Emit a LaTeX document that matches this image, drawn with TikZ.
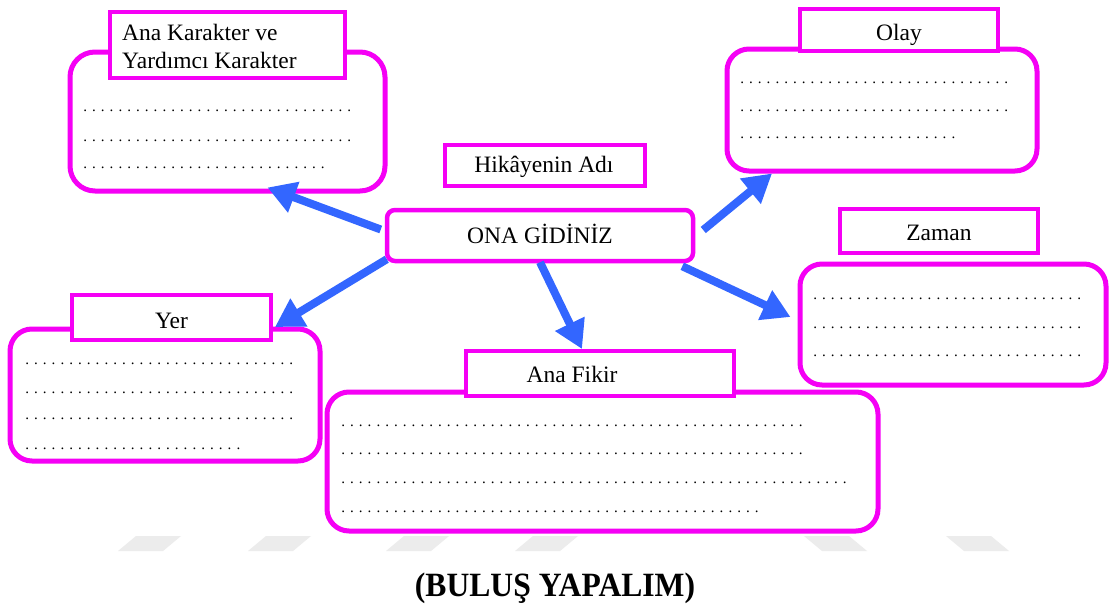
\documentclass[tikz,border=0pt]{standalone}
\usepackage{fontspec}
\setmainfont{Liberation Serif}
\usetikzlibrary{arrows.meta}
\definecolor{frame}{RGB}{245,0,245}
\definecolor{arrowblue}{RGB}{51,102,255}
\definecolor{wmgray}{RGB}{236,236,236}
% a row of n periods, 8.8pt apart, for the writing lines
\newcount\dotcount
\newcommand\dotrow[1]{{\fontsize{15}{15}\selectfont\dotcount=#1\relax
  \loop\hbox to 8.8pt{\hss.\hss}\advance\dotcount by -1\relax\ifnum\dotcount>0 \repeat}}
\begin{document}
\begin{tikzpicture}[x=1pt,y=-1pt]
\tikzset{
  panel/.style={draw=frame, line width=5pt, fill=white, rounded corners=22pt, inner sep=0pt},
  titlebox/.style={draw=frame, line width=4pt, fill=white, inner sep=0pt},
  wordtext/.style={font=\fontsize{23.5}{28}\selectfont, inner sep=0pt, anchor=base},
  dotline/.style={inner sep=0pt, anchor=base west, text=black},
  flow/.style={draw=arrowblue, line width=8pt, -{Triangle[length=28pt,width=31pt]}},
  wmshape/.style={fill=wmgray}
}
\fill[white] (0,0) rectangle (1112,605);
\useasboundingbox (0,0) rectangle (1112,605);

% faint bars along the lower edge
\fill[wmshape] (118,551) -- (163,551) -- (181,536) -- (136,536) -- cycle;
\fill[wmshape] (248,551) -- (293,551) -- (311,536) -- (266,536) -- cycle;
\fill[wmshape] (386,551) -- (431,551) -- (449,536) -- (404,536) -- cycle;
\fill[wmshape] (515,551) -- (560,551) -- (578,536) -- (533,536) -- cycle;
\fill[wmshape] (822,551) -- (867,551) -- (849,536) -- (804,536) -- cycle;
\fill[wmshape] (964,551) -- (1009,551) -- (991,536) -- (946,536) -- cycle;

% Ana Karakter ve Yardimci Karakter
\node[panel, rounded corners=25pt, minimum width=315pt, minimum height=139pt] (akbox) at (227.5,121.5) {};
\node[titlebox, minimum width=235pt, minimum height=66pt] (aktitle) at (227.5,45) {};
\node[wordtext, anchor=base west] (akname1) at (122,40) {Ana Karakter ve};
\node[wordtext, anchor=base west] (akname2) at (122,68) {Yardımcı Karakter};
\node[dotline] (akd1) at (80.6,111) {\dotrow{31}};
\node[dotline] (akd2) at (80.6,141) {\dotrow{31}};
\node[dotline] (akd3) at (80.6,168) {\dotrow{28}};

% Olay
\node[panel, minimum width=310pt, minimum height=122pt] (olaybox) at (882,110) {};
\node[titlebox, minimum width=198pt, minimum height=42pt] (olaytitle) at (899,30) {};
\node[wordtext] (olayname) at (899,40) {Olay};
\node[dotline] (olayd1) at (737.6,83) {\dotrow{31}};
\node[dotline] (olayd2) at (737.6,111) {\dotrow{31}};
\node[dotline] (olayd3) at (737.6,138) {\dotrow{25}};

% story title and centre
\node[titlebox, line width=3.5pt, minimum width=200pt, minimum height=41pt] (hikaye) at (545,165.5) {};
\node[wordtext] (hikayename) at (544,172) {Hikâyenin Adı};
\node[draw=frame, line width=4.5pt, fill=white, rounded corners=8pt, minimum width=306pt, minimum height=51pt, inner sep=0pt] (ona) at (540,235.5) {};
\node[wordtext] (onaname) at (540,243) {ONA GİDİNİZ};

% Zaman
\node[titlebox, minimum width=198pt, minimum height=44pt] (zamantitle) at (939,231) {};
\node[wordtext] (zamanname) at (939,240) {Zaman};
\node[panel, minimum width=306pt, minimum height=121pt] (zamanbox) at (953,324.5) {};
\node[dotline] (zamand1) at (810.6,299) {\dotrow{31}};
\node[dotline] (zamand2) at (810.6,328) {\dotrow{31}};
\node[dotline] (zamand3) at (810.6,356) {\dotrow{31}};

% Yer
\node[panel, minimum width=310pt, minimum height=132pt] (yerbox) at (165,395) {};
\node[titlebox, minimum width=199pt, minimum height=45pt] (yertitle) at (171.5,317.5) {};
\node[wordtext] (yername) at (171.5,328) {Yer};
\node[dotline] (yerd1) at (22.6,364) {\dotrow{31}};
\node[dotline] (yerd2) at (22.6,393) {\dotrow{31}};
\node[dotline] (yerd3) at (22.6,419) {\dotrow{31}};
\node[dotline] (yerd4) at (22.6,449) {\dotrow{25}};

% Ana Fikir
\node[panel, minimum width=551pt, minimum height=139pt] (fikirbox) at (602.5,461.5) {};
\node[titlebox, minimum width=268pt, minimum height=45pt] (fikirtitle) at (600,373.5) {};
\node[wordtext] (fikirname) at (572,382) {Ana Fikir};
\node[dotline] (fikird1) at (338.6,426) {\dotrow{53}};
\node[dotline] (fikird2) at (338.6,454) {\dotrow{53}};
\node[dotline] (fikird3) at (338.6,483) {\dotrow{58}};
\node[dotline] (fikird4) at (338.6,512) {\dotrow{48}};

% arrows from the centre
\draw[flow] ([xshift=-4pt,yshift=6pt]ona.west) -- ([xshift=40pt,yshift=6pt]akbox.south);
\draw[flow] ([xshift=8pt,yshift=5.5pt]ona.east) -- ([xshift=-110pt]olaybox.south);
\draw[flow] ([xshift=2pt,yshift=4pt]ona.south west) -- ([xshift=2pt,yshift=-9.5pt]yertitle.east);
\draw[flow] ([yshift=1pt]ona.south) -- ([xshift=-18pt]fikirtitle.north);
\draw[flow] ([xshift=-13pt,yshift=-3pt]ona.south east) -- ([xshift=-7pt,yshift=7.5pt]zamanbox.west);

% caption
\node[font=\bfseries\fontsize{34}{34}\selectfont\addfontfeature{FakeStretch=0.93}, inner sep=0pt, anchor=base] (heading) at (555,596) {(BULUŞ YAPALIM)};
\end{tikzpicture}
\end{document}
